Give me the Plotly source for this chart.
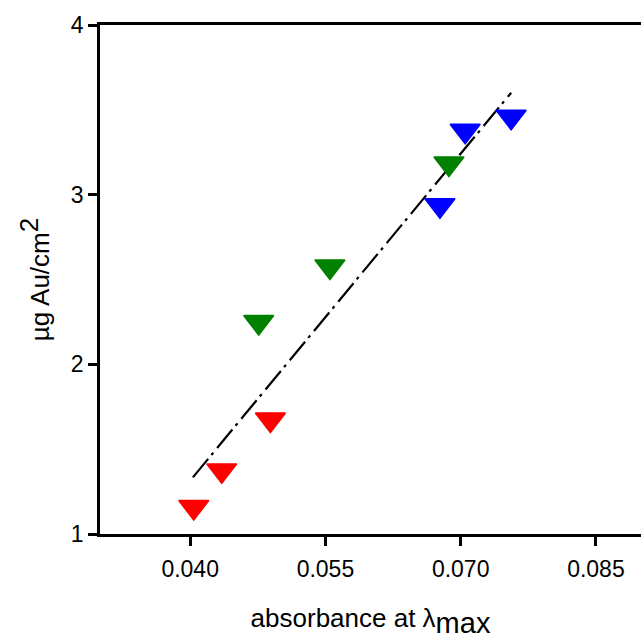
import plotly.graph_objects as go

# Absorbance at lambda_max vs gold loading, three sample sets
red_abs = [0.0404, 0.0435, 0.0489]
red_au = [1.159, 1.375, 1.675]

green_abs = [0.0476, 0.0555, 0.0687]
green_au = [2.249, 2.577, 3.184]

blue_abs = [0.0677, 0.0705, 0.0756]
blue_au = [2.937, 3.376, 3.459]

# Linear calibration line end points
fit_abs = [0.0403, 0.0756]
fit_au = [1.334, 3.601]

x_ticks = [0.040, 0.055, 0.070, 0.085]
y_ticks = [1, 2, 3, 4]

FONT = "Arial, 'Liberation Sans', sans-serif"

fig = go.Figure()

fig.add_trace(go.Scatter(
    x=fit_abs, y=fit_au, mode="lines",
    line=dict(color="black", width=2.2, dash="24px,5px,3px,6px"),
    showlegend=False, hoverinfo="skip",
))

for xs, ys, col in [(red_abs, red_au, "#ff0000"),
                    (green_abs, green_au, "#008000"),
                    (blue_abs, blue_au, "#0000ff")]:
    fig.add_trace(go.Scatter(
        x=xs, y=ys, mode="markers",
        marker=dict(symbol="triangle-down", size=26, color=col,
                    line=dict(color=col, width=1.5)),
        showlegend=False,
    ))

fig.update_layout(
    width=641, height=639,
    margin=dict(l=100, r=0, t=25, b=105),
    plot_bgcolor="white", paper_bgcolor="white",
    font=dict(family=FONT, size=23, color="black"),
)

fig.update_xaxes(
    range=[0.030, 0.090],
    tickvals=x_ticks, ticktext=[f"{v:.3f}" for v in x_ticks],
    ticks="outside", ticklen=9, tickwidth=2.5, tickcolor="black",
    showline=True, linewidth=2.5, linecolor="black", mirror=True,
    showgrid=False, zeroline=False,
    tickfont=dict(size=23), ticklabelstandoff=4,
    title=dict(text="absorbance at λ<sub><span style='font-size:29px'>max</span></sub>",
               font=dict(size=26), standoff=28),
)

fig.update_yaxes(
    range=[1, 4],
    tickvals=y_ticks, ticktext=[str(v) for v in y_ticks],
    ticks="outside", ticklen=9, tickwidth=2.5, tickcolor="black",
    showline=True, linewidth=2.5, linecolor="black",
    showgrid=False, zeroline=False,
    tickfont=dict(size=23),
    title=dict(text="µg Au/cm<sup><span style='font-size:26px'>2</span></sup>",
               font=dict(size=26), standoff=14),
)

fig.write_html("out.html")
